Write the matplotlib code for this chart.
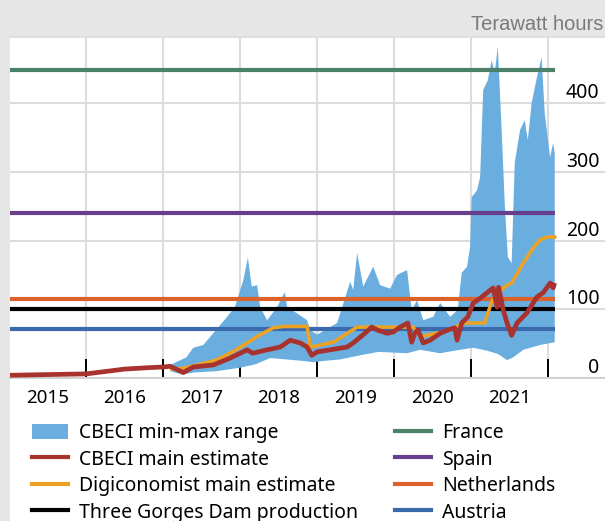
import matplotlib
matplotlib.use("Agg")
import matplotlib.pyplot as plt
import numpy as np
from matplotlib.patches import Rectangle, Patch
from matplotlib.lines import Line2D

# ---------------- data (decimal years, terawatt hours) ----------------
cbeci_year = [2015.01, 2015.50, 2016.00, 2016.50, 2016.80, 2017.00, 2017.09, 2017.26, 2017.39, 2017.48,
              2017.65, 2017.87, 2018.00, 2018.09, 2018.16, 2018.35, 2018.52, 2018.65, 2018.78, 2018.87,
              2018.93, 2019.00, 2019.17, 2019.39, 2019.47, 2019.60, 2019.71, 2019.78, 2019.91, 2019.99,
              2020.08, 2020.18, 2020.23, 2020.27, 2020.31, 2020.38, 2020.47, 2020.60, 2020.73, 2020.79,
              2020.82, 2020.88, 2020.96, 2021.03, 2021.12, 2021.21, 2021.29, 2021.34, 2021.36, 2021.42,
              2021.47, 2021.53, 2021.60, 2021.73, 2021.86, 2021.94, 2022.03, 2022.07, 2022.08]
cbeci_twh = [4, 5, 6, 13, 15, 16, 17, 8, 16, 17,
             19, 29, 36, 41, 36, 41, 45, 55, 51, 45,
             33, 38, 41, 45, 51, 63, 74, 70, 65, 67,
             74, 80, 52, 65, 70, 51, 55, 65, 71, 73,
             55, 80, 89, 109, 116, 124, 131, 103, 132, 99,
             80, 62, 80, 95, 118, 124, 138, 131, 135]

digi_year = [2017.11, 2017.26, 2017.55, 2017.69, 2017.90, 2018.09, 2018.26, 2018.43, 2018.56, 2018.87,
             2018.91, 2019.00, 2019.21, 2019.52, 2020.25, 2020.33, 2020.60, 2020.73, 2020.90, 2021.18,
             2021.27, 2021.34, 2021.47, 2021.53, 2021.68, 2021.81, 2021.90, 2021.99, 2022.09]
digi_twh = [13, 14, 22, 26, 38, 51, 63, 73, 75, 75,
            45, 47, 52, 74, 74, 60, 66, 70, 80, 80,
            111, 123, 135, 138, 167, 189, 201, 205, 205]

band_hi_year = [2017.09, 2017.30, 2017.39, 2017.52, 2017.65, 2017.83, 2017.93, 2018.04, 2018.10, 2018.15,
                2018.22, 2018.26, 2018.35, 2018.48, 2018.58, 2018.61, 2018.74, 2018.87, 2018.91, 2019.00,
                2019.26, 2019.30, 2019.43, 2019.47, 2019.52, 2019.60, 2019.73, 2019.82, 2019.95, 2020.04,
                2020.17, 2020.23, 2020.30, 2020.38, 2020.51, 2020.60, 2020.73, 2020.83, 2020.88, 2020.95,
                2020.99, 2021.01, 2021.08, 2021.12, 2021.16, 2021.22, 2021.27, 2021.31, 2021.35, 2021.40,
                2021.44, 2021.48, 2021.53, 2021.57, 2021.64, 2021.70, 2021.74, 2021.79, 2021.86, 2021.92,
                2021.96, 2022.03, 2022.07, 2022.09]
band_hi_twh = [19, 30, 44, 48, 65, 89, 103, 142, 175, 133,
               135, 103, 84, 103, 125, 103, 94, 84, 70, 63,
               80, 94, 140, 128, 182, 133, 162, 135, 130, 150,
               157, 99, 113, 84, 89, 109, 89, 99, 153, 162,
               191, 263, 273, 292, 419, 433, 462, 444, 482, 361,
               254, 176, 167, 313, 361, 375, 346, 400, 438, 467,
               385, 321, 342, 327]

band_lo_year = [2017.09, 2017.25, 2017.40, 2017.70, 2018.00, 2018.20, 2018.39, 2018.60, 2018.80, 2018.95,
                2019.10, 2019.30, 2019.56, 2019.80, 2020.17, 2020.34, 2020.60, 2020.80, 2021.03, 2021.20,
                2021.35, 2021.47, 2021.55, 2021.68, 2021.90, 2022.09]
band_lo_twh = [10, 5, 8, 10, 15, 20, 29, 27, 25, 23,
               25, 27, 33, 38, 36, 41, 36, 40, 44, 40,
               35, 26, 30, 41, 48, 52]

ref_names = ["Three Gorges Dam production", "France", "Spain", "Netherlands", "Austria"]
ref_twh = [101, 448, 240, 115, 72]
ref_span = [2015.0, 2022.10]

year_labels = ["2015", "2016", "2017", "2018", "2019", "2020", "2021"]
ytick_vals = [0, 100, 200, 300, 400]
unit_label = "Terawatt hours"

# ---------------- style ----------------
C_BAND = "#6aaee0"
C_CBECI = "#a8322d"
C_DIGI = "#eba225"
C_REF = {"Three Gorges Dam production": "#000000", "France": "#4b8069",
         "Spain": "#673f8c", "Netherlands": "#db622b", "Austria": "#3b69ae"}
GRID = "#dcdcdc"
FONT = ["Noto Sans", "DejaVu Sans"]
plt.rcParams["font.family"] = FONT

W, H = 605, 521
fig = plt.figure(figsize=(W / 100, H / 100), dpi=100, facecolor="#e6e6e6")
fig.add_artist(Rectangle((9.5 / W, 0), 1, (H - 37) / H, transform=fig.transFigure,
                         facecolor="white", edgecolor="none", zorder=-5))

ax = fig.add_axes([9.5 / W, (H - 378) / H, (W - 9.5) / W, 341 / H])
ax.set_facecolor("white")
ax.set_xlim(2015.0, 2015.0 + (W - 9.5) / 76.9)
ax.set_ylim(0, 496)

# band
poly_x = np.concatenate([band_hi_year, band_lo_year[::-1]])
poly_y = np.concatenate([band_hi_twh, band_lo_twh[::-1]])
ax.fill(poly_x, poly_y, color=C_BAND, lw=0, zorder=2)

# reference lines
for name, v in zip(ref_names, ref_twh):
    ax.hlines(v, ref_span[0], ref_span[1], color=C_REF[name], lw=3.0, zorder=3)

ax.plot(digi_year, digi_twh, color=C_DIGI, lw=2.6, zorder=4, solid_joinstyle="round")
ax.plot(cbeci_year, cbeci_twh, color=C_CBECI, lw=3.4, zorder=5, solid_joinstyle="round")

# grid / spines
for s in ["left", "right"]:
    ax.spines[s].set_visible(False)
ax.spines["top"].set_color(GRID)
ax.spines["bottom"].set_color("#cccccc")
ax.spines["top"].set_linewidth(1.2)
ax.spines["bottom"].set_linewidth(1.2)

ax.set_xticks(range(2016, 2023))
ax.set_xticklabels([])
ax.set_xticks([2015.5 + i for i in range(len(year_labels))], minor=True)
ax.set_xticklabels(year_labels, minor=True)
ax.tick_params(axis="x", which="major", direction="in", length=14, width=1.4, color="black")
ax.tick_params(axis="x", which="minor", length=0, pad=8, labelsize=13.5, labelcolor="black")
ax.xaxis.grid(True, which="major", color=GRID, lw=1.5, zorder=0)

ax.set_yticks(ytick_vals)
ax.yaxis.tick_right()
ax.tick_params(axis="y", length=0, pad=-4, labelsize=14, labelcolor="black")
for lbl in ax.get_yticklabels():
    lbl.set_horizontalalignment("right")
    lbl.set_verticalalignment("bottom")
ax.yaxis.grid(True, color=GRID, lw=1.5, zorder=0)
ax.set_axisbelow(True)

fig.text(603 / W, 1 - 25 / H, unit_label, ha="right", va="center", fontsize=14.5,
         color="#7a7a7a", family=["Liberation Sans", "DejaVu Sans"])

# legend
handles = [Patch(facecolor=C_BAND, edgecolor="none"),
           Line2D([], [], color=C_CBECI, lw=3),
           Line2D([], [], color=C_DIGI, lw=3),
           Line2D([], [], color=C_REF["Three Gorges Dam production"], lw=3),
           Line2D([], [], color=C_REF["France"], lw=3),
           Line2D([], [], color=C_REF["Spain"], lw=3),
           Line2D([], [], color=C_REF["Netherlands"], lw=3),
           Line2D([], [], color=C_REF["Austria"], lw=3)]
labels = ["CBECI min-max range", "CBECI main estimate", "Digiconomist main estimate",
          "Three Gorges Dam production", "France", "Spain", "Netherlands", "Austria"]
fig.legend(handles, labels, ncol=2, loc="upper left", bbox_to_anchor=(32 / W, 1 - 423 / H),
           frameon=False, fontsize=14, handlelength=1.85, handleheight=0.8, handletextpad=0.57,
           columnspacing=1.9, labelspacing=0.335, borderpad=0, borderaxespad=0)

fig.savefig("out.png", dpi=100, facecolor=fig.get_facecolor())
